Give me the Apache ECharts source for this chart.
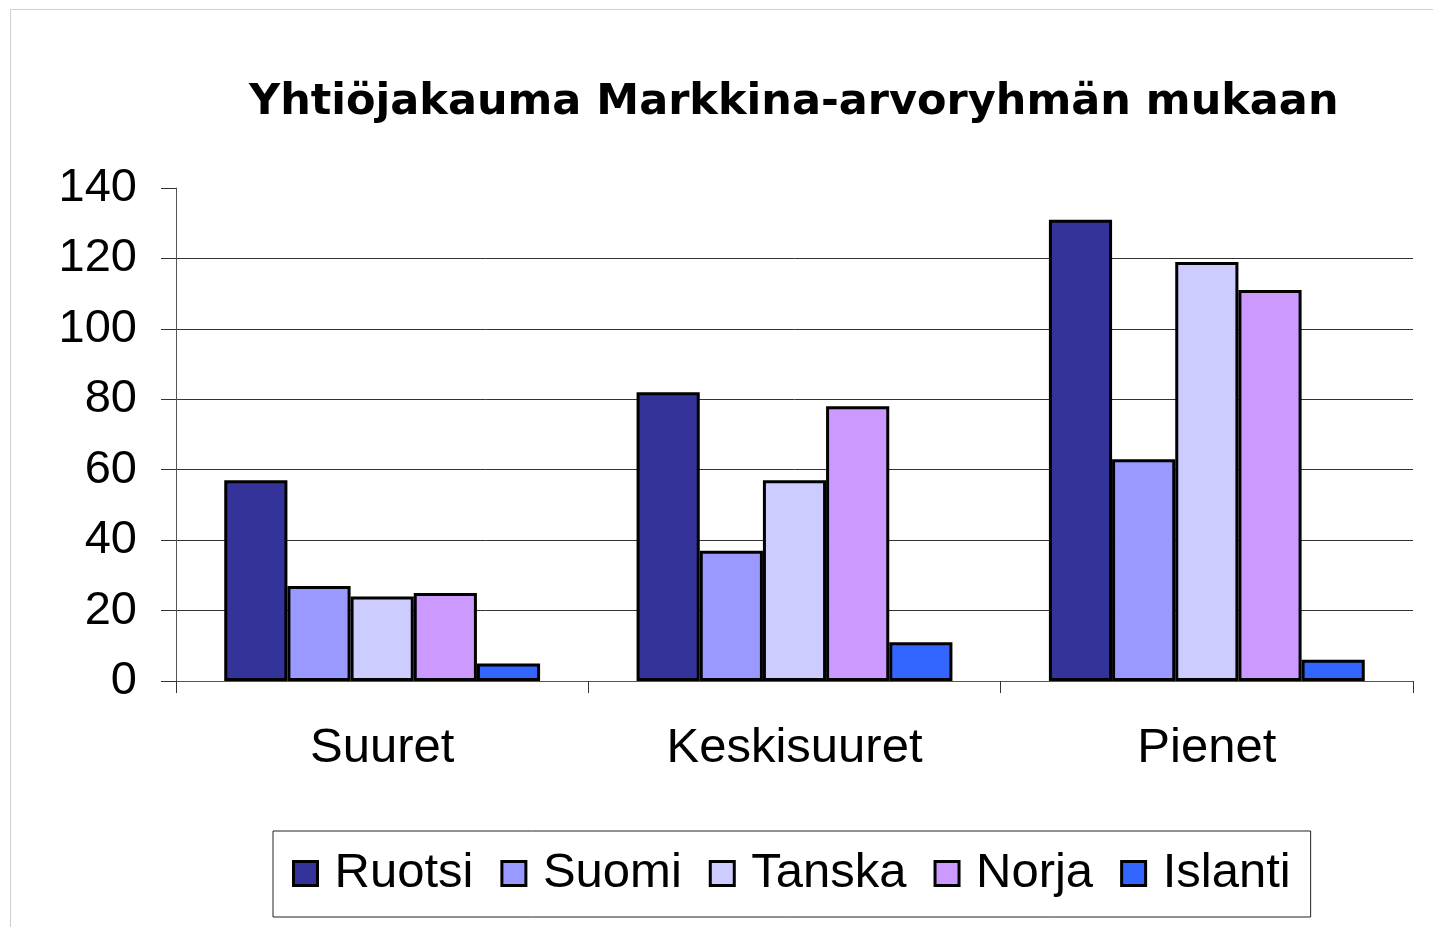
<!DOCTYPE html>
<html>
<head>
<meta charset="utf-8">
<script src="https://cdn.jsdelivr.net/npm/echarts@6/dist/echarts.min.js"></script>
<style>
  html, body { margin: 0; padding: 0; background: #fff; }
  #main { width: 1433px; height: 927px; }
</style>
</head>
<body>
<div id="main"></div>
<script>
var categories = ['Suuret', 'Keskisuuret', 'Pienet'];
var countries = ['Ruotsi', 'Suomi', 'Tanska', 'Norja', 'Islanti'];
var colors = ['#333399', '#9999ff', '#ccccff', '#cc99ff', '#3366ff'];

var ruotsi = [57, 82, 131];
var suomi = [27, 37, 63];
var tanska = [24, 57, 119];
var norja = [25, 78, 111];
var islanti = [5, 11, 6];
var values = [ruotsi, suomi, tanska, norja, islanti];

var chart = echarts.init(document.getElementById('main'));

var series = countries.map(function (name, i) {
  return {
    name: name,
    type: 'bar',
    data: values[i],
    barGap: '0%',
    barCategoryGap: '23.4%',
    itemStyle: {
      color: colors[i],
      borderColor: '#000',
      borderWidth: 3
    }
  };
});

var option = {
  backgroundColor: '#fff',
  animation: false,
  title: {
    text: 'Yhtiöjakauma Markkina-arvoryhmän mukaan',
    left: 244,
    top: 76,
    textStyle: {
      fontFamily: 'DejaVu Sans',
      fontWeight: 'bold',
      fontSize: 43,
      color: '#000'
    }
  },
  legend: {
    left: 273,
    top: 831,
    width: 1036,
    padding: [18, 20, 19, 19],
    borderColor: '#222',
    borderWidth: 1,
    itemWidth: 24,
    itemHeight: 24,
    itemGap: 27,
    icon: 'rect',
    itemStyle: { borderColor: '#000', borderWidth: 3 },
    textStyle: {
      fontFamily: 'Liberation Sans, Arial',
      fontSize: 49,
      color: '#000',
      padding: [0, 0, 0, 12]
    },
    data: countries
  },
  grid: {
    left: 176,
    right: 20,
    top: 188,
    bottom: 246
  },
  xAxis: {
    type: 'category',
    data: categories,
    axisLine: { lineStyle: { color: '#555', width: 1 } },
    axisTick: { show: true, length: 12, lineStyle: { color: '#333' } },
    axisLabel: {
      fontFamily: 'Liberation Sans, Arial',
      fontSize: 49,
      color: '#000',
      margin: 43
    }
  },
  yAxis: {
    type: 'value',
    min: 0,
    max: 140,
    interval: 20,
    axisLine: { show: true, lineStyle: { color: '#555', width: 1 } },
    axisTick: { show: true, length: 15, lineStyle: { color: '#333' } },
    axisLabel: {
      fontFamily: 'Liberation Sans, Arial',
      fontSize: 47,
      color: '#000',
      margin: 39
    },
    splitLine: {
      show: true,
      showMaxLine: false,
      lineStyle: { color: '#333', width: 1 }
    }
  },
  graphic: [{
    type: 'rect',
    shape: { x: 10.5, y: 9.5, width: 1440, height: 940 },
    style: { fill: 'none', stroke: '#cfcfcf', lineWidth: 1 },
    silent: true,
    z: -1
  }],
  series: series
};

chart.setOption(option);
</script>
</body>
</html>
